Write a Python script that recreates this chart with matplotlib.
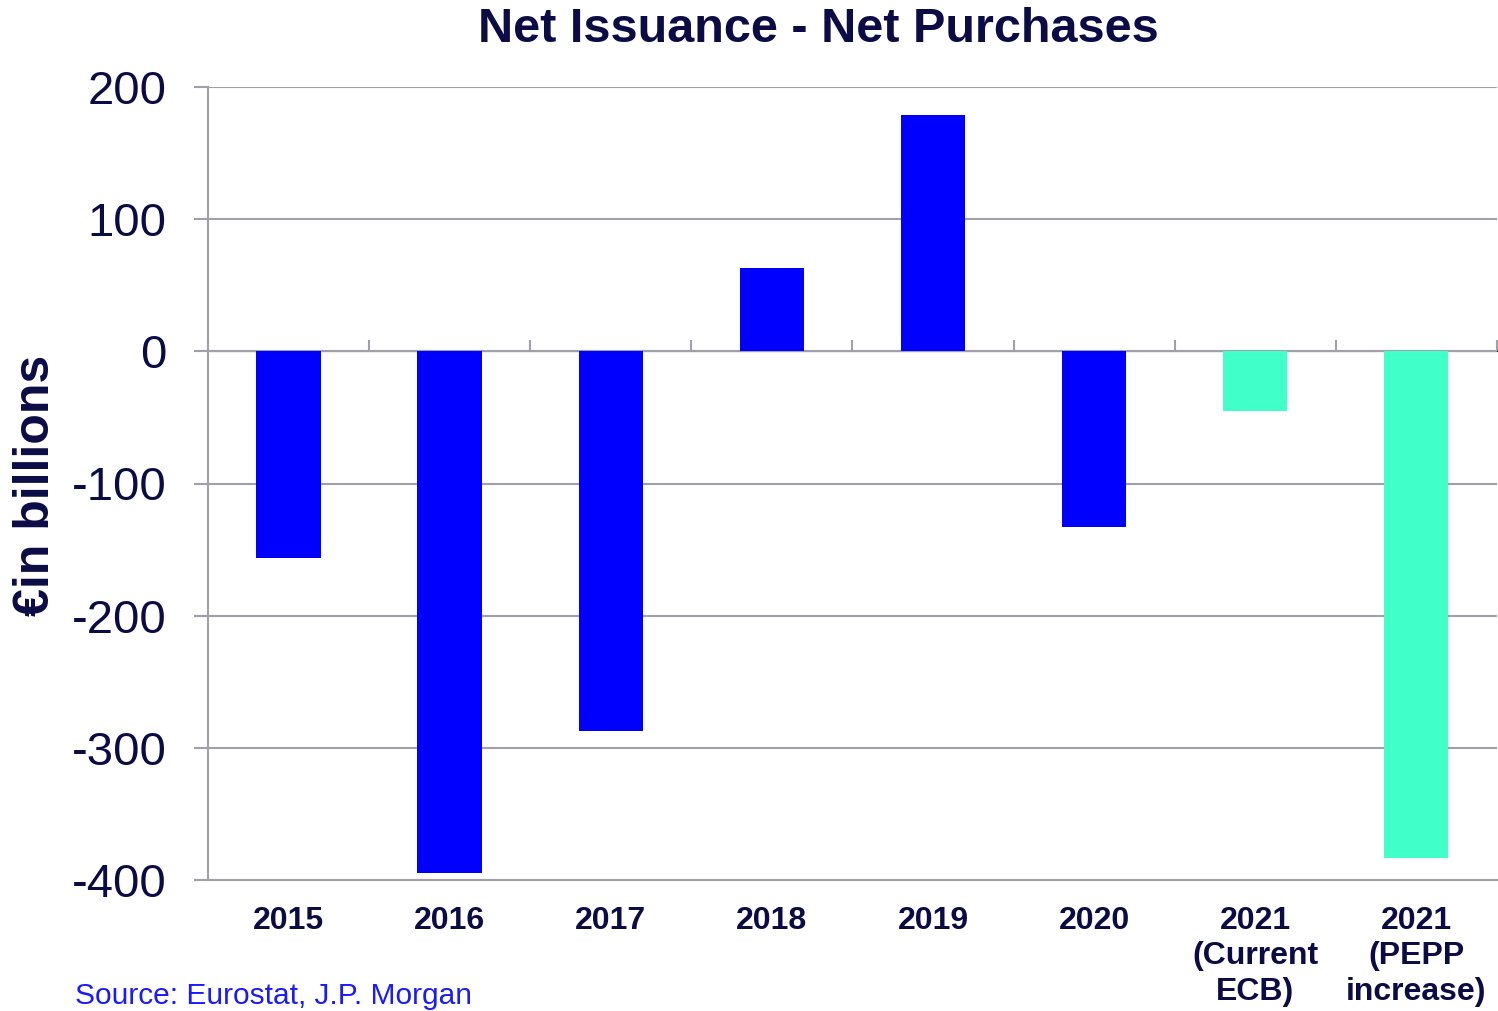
import matplotlib
matplotlib.use("Agg")
import matplotlib.pyplot as plt
import numpy as np

# data
categories = ["2015", "2016", "2017", "2018", "2019", "2020",
              "2021\n(Current\nECB)", "2021\n(PEPP\nincrease)"]
values = [-156, -395, -287, 63, 179, -133, -45, -383]
colors = ["#0000ff"] * 6 + ["#40ffc8"] * 2
yticks = [200, 100, 0, -100, -200, -300, -400]

text_col = "#0b0b45"
grid_col = "#a0a0a8"

plt.rcParams["font.family"] = ["Liberation Sans", "DejaVu Sans"]

fig = plt.figure(figsize=(14.98, 10.11), dpi=100)
ax = fig.add_axes([208 / 1498, 1 - 880 / 1011, 1 - 208 / 1498 - 0.0008, (880 - 87) / 1011])

x = np.arange(len(categories))
ax.bar(x, values, width=0.4, color=colors, zorder=3)

ax.set_xlim(-0.5, len(categories) - 0.5)
ax.set_ylim(-400, 200)
ax.set_yticks(yticks)
ax.set_yticklabels([str(v) for v in yticks], fontsize=34, color=text_col)
ax.tick_params(axis="y", length=10, width=1.5, color=grid_col, pad=20)
ax.yaxis.grid(True, color=grid_col, linewidth=1.5, zorder=0)

ax.set_xticks(x)
ax.set_xticklabels(categories, fontsize=23, fontweight="bold", color=text_col,
                   linespacing=1.22, va="top")
ax.tick_params(axis="x", length=0, pad=19)

for s in ["top", "right"]:
    ax.spines[s].set_visible(False)
ax.spines["left"].set_color(grid_col)
ax.spines["left"].set_linewidth(1.5)
ax.spines["bottom"].set_color(grid_col)
ax.spines["bottom"].set_linewidth(1.5)

# zero line with category-boundary ticks
sec = ax.secondary_xaxis(400 / 600)
sec.set_xticks(np.arange(-0.5, len(categories), 1.0))
sec.set_xticklabels([])
sec.tick_params(axis="x", direction="out", length=8, width=1.5, color=grid_col)
sec.spines["bottom"].set_color(grid_col)
sec.spines["bottom"].set_linewidth(2)

fig.text(818 / 1498, 1 - 30 / 1011, "Net Issuance - Net Purchases", ha="center",
         va="center", fontsize=35, fontweight="bold", color=text_col)
fig.text(36 / 1498, 1 - 485 / 1011, "€in billions", rotation=90, ha="center",
         va="center", fontsize=36, fontweight="bold", color=text_col)
fig.text(75 / 1498, 0.001, "Source: Eurostat, J.P. Morgan", ha="left", va="bottom",
         fontsize=21.5, color="#1a1aff")

fig.savefig("out.png", dpi=100)
